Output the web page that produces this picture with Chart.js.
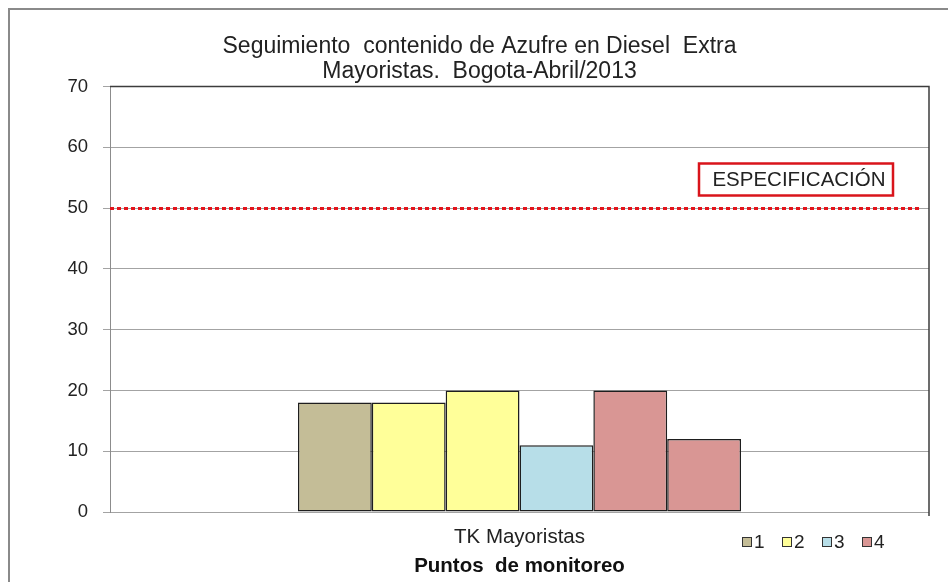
<!DOCTYPE html>
<html><head><meta charset="utf-8">
<script src="https://cdn.jsdelivr.net/npm/chart.js@4.4.1/dist/chart.umd.min.js"></script>
<style>html,body{margin:0;padding:0;background:#fff}#wrap{width:948px;height:582px;position:relative;overflow:hidden}</style>
</head><body><div id="wrap"><canvas id="c" width="948" height="582"></canvas></div>
<script>
const categories = ['TK Mayoristas'];
const seriesNames = ['1', '2', '2', '3', '4', '4'];
const seriesValues = [18, 18, 20, 11, 20, 12];
const legendNames = ['1', '2', '3', '4'];
const seriesColors = {'1': '#C4BD97', '2': '#FFFF99', '3': '#B7DEE8', '4': '#D99694'};
const specValue = 50;
const specLabel = 'ESPECIFICACIÓN';
const yMin = 0, yMax = 70, yStep = 10;
const titleLines = ['Seguimiento  contenido de Azufre en Diesel  Extra', 'Mayoristas.  Bogota-Abril/2013'];
const xTitle = 'Puntos  de monitoreo';

const FONT = "'Liberation Sans', Arial, sans-serif";

const datasets = seriesNames.map((n, i) => ({
  label: n,
  data: [seriesValues[i]],
  backgroundColor: seriesColors[n],
  borderColor: '#1e1e1e',
  borderWidth: 1.5,
  borderSkipped: false,
  categoryPercentage: 0.541,
  barPercentage: 1.0
}));

const decor = {
  id: 'decor',
  beforeDraw(chart) {
    const ctx = chart.ctx;
    ctx.save();
    ctx.fillStyle = '#fff';
    ctx.fillRect(0, 0, chart.width, chart.height);
    ctx.strokeStyle = '#8a8a8a';
    ctx.lineWidth = 2;
    ctx.strokeRect(9, 9, 1200, 1200);
    ctx.restore();
  },
  afterDatasetsDraw(chart) {
    const ctx = chart.ctx;
    const a = chart.chartArea;
    const y = chart.scales.y;
    ctx.save();
    // plot border top & right
    ctx.strokeStyle = '#3c3c3c';
    ctx.lineWidth = 1.5;
    ctx.beginPath();
    ctx.moveTo(a.left, a.top);
    ctx.lineTo(a.right, a.top);
    ctx.lineTo(a.right, a.bottom + 4);
    ctx.stroke();
    // specification line
    const sy = Math.round(y.getPixelForValue(specValue)) + 0.5;
    ctx.strokeStyle = '#e3141b';
    ctx.lineWidth = 3;
    ctx.setLineDash([4, 3]);
    ctx.beginPath();
    ctx.moveTo(a.left, sy);
    ctx.lineTo(a.right - 8, sy);
    ctx.stroke();
    ctx.setLineDash([]);
    // spec label box
    const bx = a.right - 230, bw = 194, by = sy - 45, bh = 32;
    ctx.strokeStyle = '#d9141b';
    ctx.lineWidth = 2.5;
    ctx.strokeRect(bx, by, bw, bh);
    ctx.fillStyle = '#222';
    ctx.font = '20.5px ' + FONT;
    ctx.textAlign = 'center';
    ctx.textBaseline = 'middle';
    ctx.fillText(specLabel, bx + bw / 2 + 3, by + bh / 2 + 1);
    // legend
    ctx.font = '19px ' + FONT;
    ctx.textAlign = 'left';
    let lx = a.right - 187;
    const ly = 542;
    legendNames.forEach((n) => {
      ctx.fillStyle = seriesColors[n];
      ctx.fillRect(lx, ly - 5, 10, 10);
      ctx.strokeStyle = '#333';
      ctx.lineWidth = 1;
      ctx.strokeRect(lx + 0.5, ly - 4.5, 9, 9);
      ctx.fillStyle = '#222';
      ctx.fillText(n, lx + 12, ly + 1);
      lx += 40;
    });
    ctx.restore();
  }
};

new Chart(document.getElementById('c'), {
  type: 'bar',
  data: { labels: categories, datasets },
  options: {
    responsive: false,
    devicePixelRatio: 1,
    animation: false,
    layout: { padding: { left: 30, right: 19, top: 0, bottom: 0 } },
    plugins: {
      legend: { display: false },
      tooltip: { enabled: false },
      title: {
        display: true,
        text: titleLines,
        color: '#222',
        font: { family: FONT, size: 23, weight: 'normal', lineHeight: 1.1 },
        padding: { top: 34, bottom: 2 }
      }
    },
    scales: {
      x: {
        grid: { display: false, drawTicks: false },
        border: { display: false },
        ticks: { color: '#222', font: { family: FONT, size: 20.5 }, padding: 13 },
        title: { display: true, text: xTitle, color: '#111', font: { family: FONT, size: 20.5, weight: 'bold' }, padding: { top: 0, bottom: 3 } },
        afterFit(s) { s.height = 70; }
      },
      y: {
        min: yMin, max: yMax,
        ticks: { stepSize: yStep, color: '#222', font: { family: FONT, size: 18.5 }, padding: 15 },
        grid: { color: '#a3a3a3', lineWidth: 1, tickLength: 7, drawTicks: true },
        border: { color: '#8c8c8c', width: 1 },
        afterFit(s) { s.width = 80; }
      }
    }
  },
  plugins: [decor]
});
</script>
</body></html>
